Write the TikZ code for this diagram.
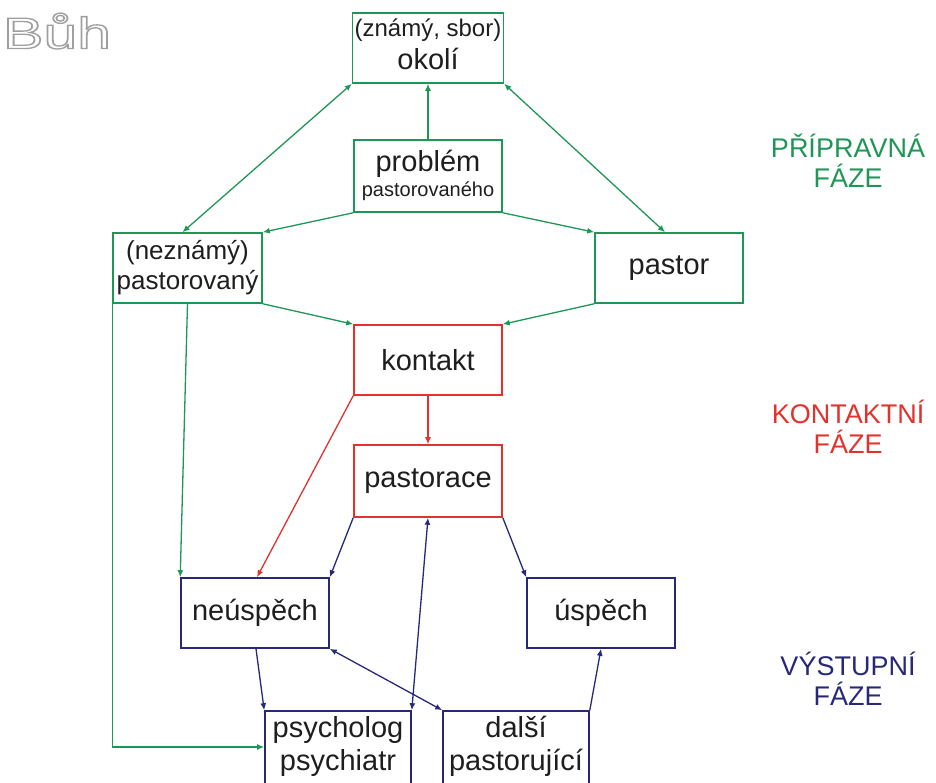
\documentclass[tikz,border=0pt]{standalone}
\usepackage{fontspec}
\setmainfont{Liberation Sans}
\usetikzlibrary{arrows.meta}
\definecolor{prepgreen}{RGB}{30,150,85}
\definecolor{contred}{RGB}{225,50,45}
\definecolor{outblue}{RGB}{40,40,120}
\definecolor{boxtext}{RGB}{30,30,30}
\tikzset{box/.style={draw, line width=1.6pt, minimum width=148pt, minimum height=70pt,
		inner sep=2pt, align=center, text=boxtext, font=\fontsize{29}{33}\selectfont}}
\tikzset{con/.style={line width=1.3pt, -{Latex[length=7pt,width=6pt]}}}
\tikzset{twin/.style={line width=1.3pt, {Latex[length=7pt,width=6pt]}-{Latex[length=7pt,width=6pt]}}}
\tikzset{phase/.style={align=center, font=\fontsize{27}{30}\selectfont}}

\begin{document}
\begin{tikzpicture}[x=1pt, y=-1pt]
	\useasboundingbox (0,0) rectangle (936,783);
	
	\node[text=gray!75, font=\fontsize{44}{44}\selectfont] (buh) at (57,31)
		{\scalebox{1.38}[1]{\special{pdf:literal direct 1 Tr 1.3 w}Bůh\special{pdf:literal direct 0 Tr}}};
	
	% pripravna faze
	\node[box, draw=prepgreen, text depth=8pt] (okoli) at (428,48) {{\fontsize{24}{24}\selectfont(známý, sbor)}\\[0pt]okolí};
	\node[box, draw=prepgreen, minimum height=72pt, text height=46pt] (problem) at (428,176) {problém\\[-8pt]{\fontsize{20}{22}\selectfont pastorovaného}};
	\node[box, draw=prepgreen, minimum width=149pt, font=\fontsize{26}{30}\selectfont] (neznamy) at (187.5,268) {(neznámý)\\pastorovaný};
	\node[box, draw=prepgreen] (pastor) at (669,268) {pastor};
	
	% kontaktni faze
	\node[box, draw=contred] (kontakt) at (428,360) {kontakt};
	\node[box, draw=contred, minimum height=72pt] (pastorace) at (428,481) {pastorace};
	
	% vystupni faze
	\node[box, draw=outblue] (neuspech) at (255,613) {neúspěch};
	\node[box, draw=outblue] (uspech) at (601,613) {úspěch};
	\node[box, draw=outblue, minimum width=146pt, minimum height=82pt, text depth=18pt] (psycholog) at (338,752) {psycholog\\psychiatr};
	\node[box, draw=outblue, minimum width=146pt, minimum height=82pt, text depth=18pt] (dalsi) at (516,752) {další\\pastorující};
	
	\node[phase, text=prepgreen] (fazeA) at (848,161) {PŘÍPRAVNÁ\\FÁZE};
	\node[phase, text=contred] (fazeB) at (848,427) {KONTAKTNÍ\\FÁZE};
	\node[phase, text=outblue] (fazeC) at (848,679) {VÝSTUPNÍ\\FÁZE};
	
	\begin{scope}[prepgreen]
		\draw[con] (problem.north) -- (okoli.south);
		\draw[twin] ([xshift=-5pt]neznamy.north) -- (okoli.south west);
		\draw[twin] ([xshift=-4pt]pastor.north) -- (okoli.south east);
		\draw[con] (problem.south west) -- (neznamy.north east);
		\draw[con] (problem.south east) -- (pastor.north west);
		\draw[con] (neznamy.south east) -- (kontakt.north west);
		\draw[con] (pastor.south west) -- (kontakt.north east);
		\draw[con] (neznamy.south) -- (neuspech.north west);
		\draw[con] (neznamy.south west) |- ([yshift=5pt]psycholog.west);
	\end{scope}
	
	\begin{scope}[contred]
		\draw[con] (kontakt.south) -- (pastorace.north);
		\draw[con] (kontakt.south west) -- ([xshift=2pt]neuspech.north);
	\end{scope}
	
	\begin{scope}[outblue]
		\draw[con] (pastorace.south west) -- (neuspech.north east);
		\draw[con] (pastorace.south east) -- (uspech.north west);
		\draw[twin] (pastorace.south) -- (psycholog.north east);
		\draw[con] ([xshift=1pt]neuspech.south) -- (psycholog.north west);
		\draw[twin] (neuspech.south east) -- (dalsi.north west);
		\draw[con] (dalsi.north east) -- (uspech.south);
	\end{scope}
	
\end{tikzpicture}
\end{document}
